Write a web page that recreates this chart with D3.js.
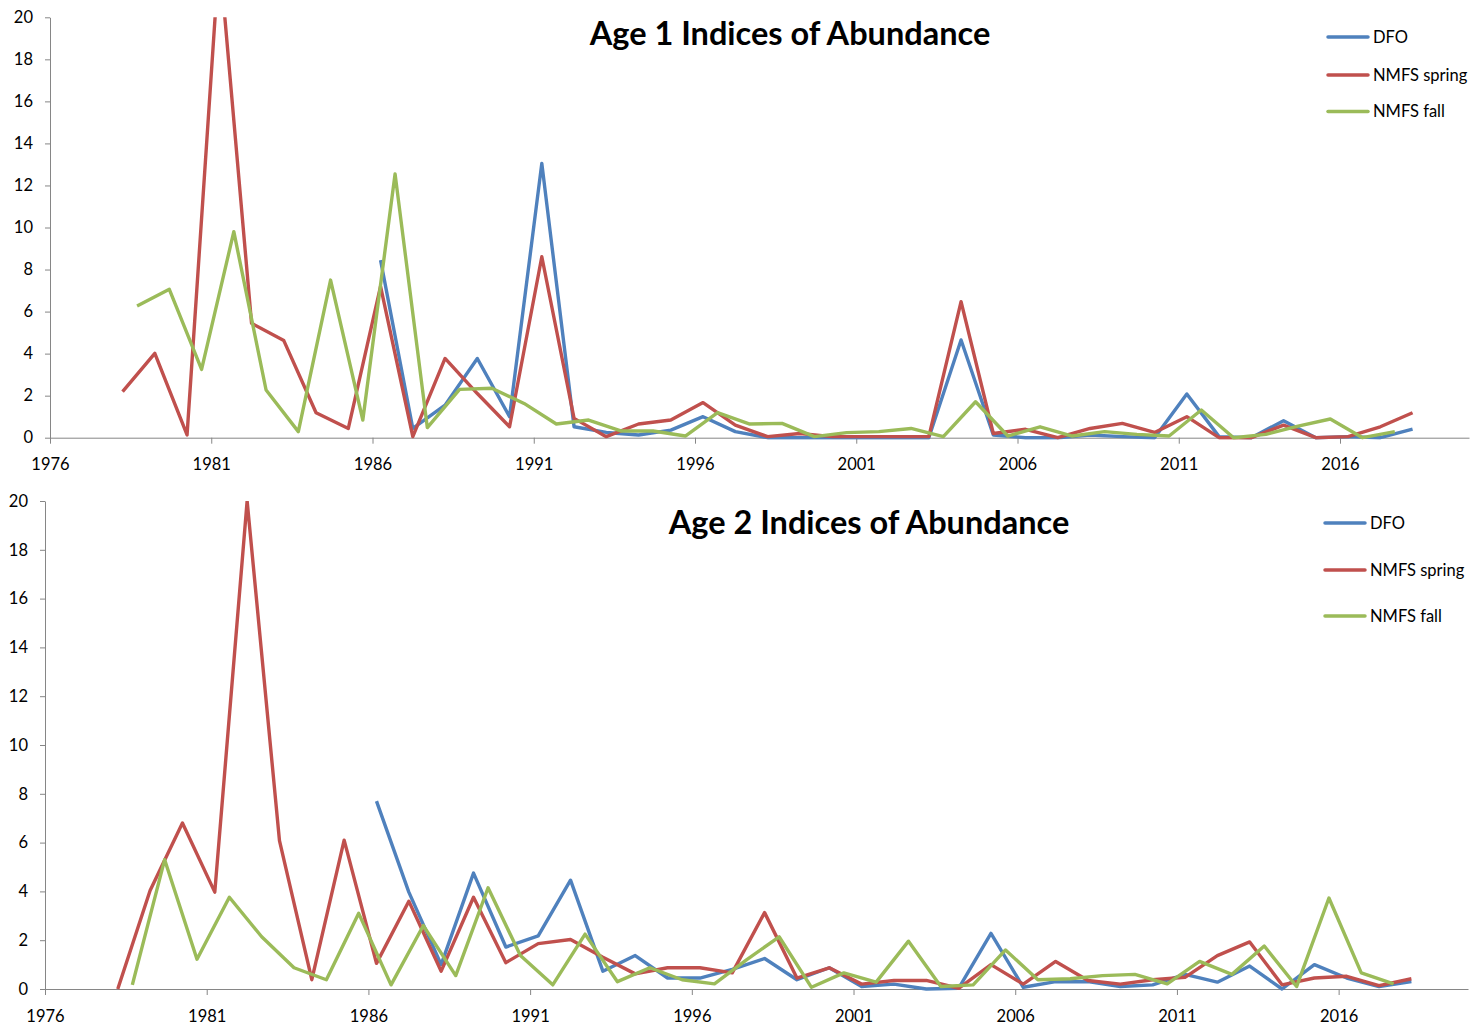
<!DOCTYPE html>
<html lang="en">
<head>
<meta charset="UTF-8">
<title>Indices of Abundance</title>
<script src="https://cdn.jsdelivr.net/npm/d3@7"></script>
<style>
  body { margin: 0; background: #fff; }
  text { font-family: Lato, "Open Sans", sans-serif; }
</style>
</head>
<body>
<svg id="chart" width="1476" height="1028"></svg>
<script>
// age 1 indices
var age1DfoYears = d3.range(1986, 2019);
var age1Dfo = [8.45,0.44,1.55,3.77,1.0,13.05,0.52,0.25,0.13,0.36,
               1.0,0.29,0,0,0,0,0,0,4.65,0.13,
               0,0,0.13,0.05,0,2.08,0.05,0,0.81,0,
               0.05,0,0.41];
var age1SpringYears = d3.range(1978, 2019);
var age1Spring = [2.19,4.01,0.13,23,5.44,4.62,1.19,0.44,7.2,0.05,
                  3.77,2.1,0.52,8.61,0.92,0.05,0.65,0.84,1.67,0.6,
                  0.05,0.2,0.05,0.05,0.05,0.05,6.47,0.2,0.4,0,
                  0.44,0.68,0.25,1.0,0,0,0.6,0,0.05,0.52,1.19];
var age1FallYears = d3.range(1978, 2018);
var age1Fall = [6.26,7.06,3.25,9.8,2.27,0.29,7.5,0.84,12.55,0.48,
                2.3,2.35,1.63,0.65,0.84,0.32,0.32,0.08,1.19,0.65,
                0.68,0.05,0.24,0.29,0.44,0.05,1.71,0.08,0.52,0.08,
                0.29,0.16,0.08,1.32,0,0.16,0.55,0.89,0,0.29];

// age 2 indices
var age2DfoYears = d3.range(1986, 2019);
var age2Dfo = [7.7,3.97,1.0,4.75,1.72,2.18,4.46,0.73,1.37,0.45,
               0.45,0.8,1.25,0.38,0.87,0.1,0.2,0,0.03,2.28,
               0.07,0.3,0.3,0.1,0.17,0.6,0.28,0.94,0,1.0,
               0.45,0.1,0.3];
var age2SpringYears = d3.range(1978, 2019);
var age2Spring = [0,4.04,6.8,3.97,20,6.08,0.38,6.1,1.05,3.6,
                  0.73,3.76,1.08,1.86,2.03,1.3,0.62,0.87,0.87,0.66,
                  3.13,0.45,0.87,0.2,0.35,0.35,0.03,1.0,0.2,1.13,
                  0.35,0.2,0.38,0.48,1.37,1.93,0.17,0.45,0.52,0.14,0.42];
var age2FallYears = d3.range(1978, 2018);
var age2Fall = [0.17,5.3,1.22,3.76,2.14,0.87,0.38,3.1,0.17,2.6,
                0.55,4.15,1.37,0.17,2.25,0.3,0.87,0.38,0.21,1.2,
                2.14,0.07,0.66,0.28,1.96,0.1,0.17,1.6,0.38,0.42,
                0.55,0.6,0.21,1.13,0.6,1.76,0.1,3.73,0.66,0.21];

var seriesNames = ["DFO", "NMFS spring", "NMFS fall"];
var seriesColors = ["#4F81BD", "#C0504D", "#9BBB59"];
// surveys are plotted part way through the year (winter/spring vs fall)
var seriesOffsets = [0.25, 0.25, 0.7];
var yTicks = d3.range(0, 21, 2);
var xTicks = d3.range(1976, 2020, 5);

var svg = d3.select("#chart");

function drawChart(opt) {
  var x = d3.scaleLinear().domain([1976, 2020]).range([opt.left, opt.right]);
  var y = d3.scaleLinear().domain([0, 20]).range([opt.bottom, opt.top]);
  var g = svg.append("g");

  g.append("clipPath").attr("id", opt.id + "clip")
    .append("rect")
    .attr("x", opt.left).attr("y", opt.top)
    .attr("width", opt.right - opt.left).attr("height", opt.bottom - opt.top + 2);

  var xAxis = g.append("g")
    .attr("transform", "translate(0," + opt.bottom + ")")
    .call(d3.axisBottom(x).tickValues(xTicks).tickFormat(d3.format("d"))
      .tickSizeInner(6).tickSizeOuter(0).tickPadding(15));
  var yAxis = g.append("g")
    .attr("transform", "translate(" + opt.left + ",0)")
    .call(d3.axisLeft(y).tickValues(yTicks).tickSizeInner(5).tickSizeOuter(0).tickPadding(12));

  [xAxis, yAxis].forEach(function(a) {
    a.selectAll("path, line").attr("stroke", "#868686");
    a.selectAll("text").attr("fill", "#000").style("font-size", "16.5px");
  });

  var line = d3.line()
    .x(function(d) { return x(d.year); })
    .y(function(d) { return y(d.value); });

  var plot = g.append("g").attr("clip-path", "url(#" + opt.id + "clip)");
  opt.series.forEach(function(s, i) {
    var pts = s.years.map(function(yr, j) {
      return { year: yr + seriesOffsets[i], value: s.values[j] };
    });
    plot.append("path")
      .datum(pts)
      .attr("fill", "none")
      .attr("stroke", seriesColors[i])
      .attr("stroke-width", 3.4)
      .attr("stroke-linejoin", "round")
      .attr("d", line);
  });

  g.append("text")
    .attr("x", opt.titleX).attr("y", opt.titleY)
    .attr("text-anchor", "middle")
    .style("font-size", "32.5px").style("font-weight", "bold")
    .text(opt.title);

  var leg = g.append("g");
  seriesNames.forEach(function(name, i) {
    var ly = opt.legendY[i];
    leg.append("line")
      .attr("x1", opt.legendX).attr("x2", opt.legendX + 40)
      .attr("y1", ly).attr("y2", ly)
      .attr("stroke", seriesColors[i]).attr("stroke-width", 3.5)
      .attr("stroke-linecap", "round");
    leg.append("text")
      .attr("x", opt.legendX + 45).attr("y", ly)
      .attr("dy", "0.35em")
      .style("font-size", "16.5px")
      .text(name);
  });
}

drawChart({
  id: "age1", title: "Age 1 Indices of Abundance",
  left: 50, right: 1469, top: 17.3, bottom: 437.7,
  titleX: 790, titleY: 45,
  legendX: 1328, legendY: [37, 75, 111.5],
  series: [
    { years: age1DfoYears, values: age1Dfo },
    { years: age1SpringYears, values: age1Spring },
    { years: age1FallYears, values: age1Fall }
  ]
});

drawChart({
  id: "age2", title: "Age 2 Indices of Abundance",
  left: 45, right: 1468, top: 501, bottom: 989,
  titleX: 869, titleY: 534,
  legendX: 1325, legendY: [523, 570, 616],
  series: [
    { years: age2DfoYears, values: age2Dfo },
    { years: age2SpringYears, values: age2Spring },
    { years: age2FallYears, values: age2Fall }
  ]
});
</script>
</body>
</html>
